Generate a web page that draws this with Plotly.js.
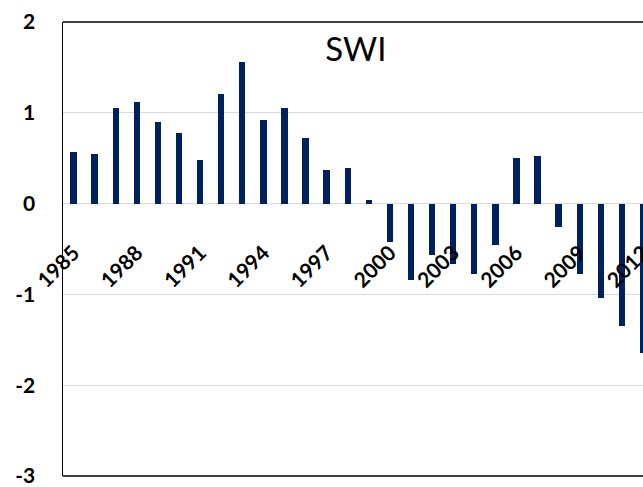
<!DOCTYPE html>
<html>
<head>
<meta charset="utf-8">
<script src="https://cdn.plot.ly/plotly-3.0.1.min.js"></script>
<style>
html, body { margin: 0; padding: 0; overflow: hidden; background: #fff; }
#chart { width: 643px; height: 487px; }
</style>
</head>
<body>
<div id="chart"></div>
<script>
const years = [1985,1986,1987,1988,1989,1990,1991,1992,1993,1994,1995,1996,1997,1998,1999,
               2000,2001,2002,2003,2004,2005,2006,2007,2008,2009,2010,2011,2012];
const swi = [0.57,0.55,1.05,1.12,0.90,0.78,0.48,1.21,1.56,0.92,1.05,0.72,0.37,0.39,0.04,
             -0.42,-0.84,-0.57,-0.67,-0.77,-0.46,0.50,0.52,-0.26,-0.77,-1.04,-1.35,-1.65];
const tickYears = [1985,1988,1991,1994,1997,2000,2003,2006,2009,2012];
const tickLabels = ["1985","1988","1991","1994","1997","2000","2003","2006","2009","2012"];
const yTicks = [-3,-2,-1,0,1,2];
const yTickLabels = ["-3","-2","-1","0","1","2"];

const trace = {
  type: 'bar',
  x: years,
  y: swi,
  width: 0.3,
  marker: {color: '#002060', line: {width: 0}},
  hoverinfo: 'x+y'
};

const layout = {
  width: 643,
  height: 487,
  margin: {l: 63, r: 0, t: 22, b: 11, pad: 0},
  paper_bgcolor: '#ffffff',
  plot_bgcolor: '#ffffff',
  showlegend: false,
  bargap: 0,
  title: {
    text: 'SWI',
    font: {family: 'Lato, "Open Sans", sans-serif', size: 33, color: '#000'},
    xref: 'paper', yref: 'paper',
    x: 0.505, xanchor: 'center',
    y: 0.94, yanchor: 'middle'
  },
  xaxis: {
    type: 'linear',
    range: [1984.5, 2012.0],
    anchor: 'free',
    position: 0.598,
    tickmode: 'array',
    tickvals: tickYears,
    ticktext: tickLabels,
    tickangle: -45,
    ticks: '',
    ticklabelstandoff: 31,
    ticklabeloverflow: 'allow',
    showline: false,
    showgrid: false,
    zeroline: false,
    tickfont: {family: 'Lato, "Open Sans", sans-serif', size: 21, color: '#000', weight: 'bold'},
    fixedrange: true
  },
  yaxis: {
    range: [-3, 2],
    tickmode: 'array',
    tickvals: yTicks,
    ticktext: yTickLabels,
    showline: true,
    linecolor: '#000',
    linewidth: 1.5,
    showgrid: true,
    gridcolor: '#d9d9d9',
    gridwidth: 1,
    zeroline: true,
    zerolinecolor: '#d9d9d9',
    zerolinewidth: 1,
    ticks: '',
    ticklabelstandoff: 22,
    ticklabeloverflow: 'allow',
    tickfont: {family: 'Lato, "Open Sans", sans-serif', size: 21, color: '#000', weight: 'bold'},
    fixedrange: true
  },
  shapes: [
    {type: 'line', xref: 'paper', yref: 'paper', x0: 0, x1: 1, y0: 1, y1: 1,
     line: {color: '#000', width: 1.5}},
    {type: 'line', xref: 'paper', yref: 'paper', x0: 0, x1: 1, y0: 0, y1: 0,
     line: {color: '#000', width: 1.5}}
  ]
};

Plotly.newPlot('chart', [trace], layout, {staticPlot: true, displayModeBar: false});
</script>
</body>
</html>
